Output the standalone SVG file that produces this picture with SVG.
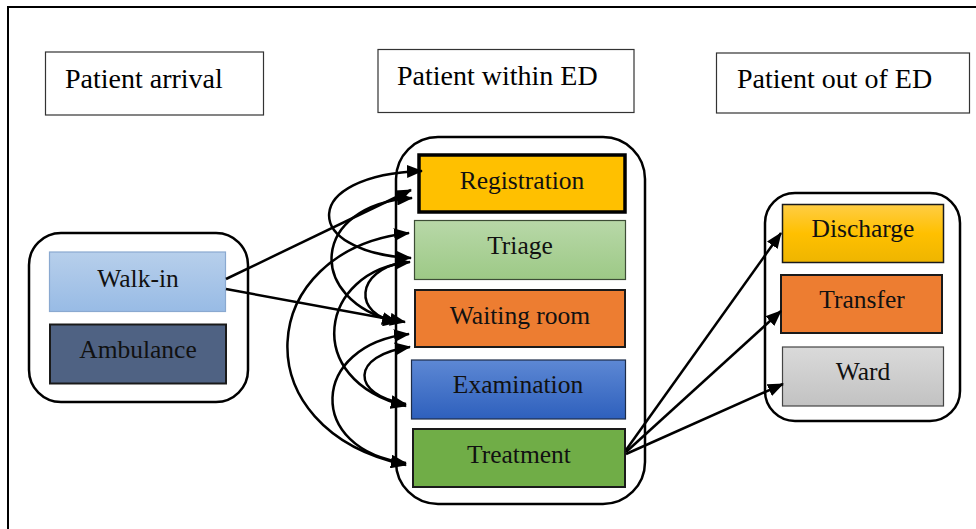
<svg xmlns="http://www.w3.org/2000/svg" width="976" height="529" viewBox="0 0 976 529">
<style>
.hdr{fill:#fff;stroke:#333;stroke-width:1.2}
.hdrt{font-family:"Liberation Serif","Times New Roman",serif;font-size:28px;fill:#000}
.cont{fill:#fff;stroke:#000;stroke-width:2.5}
.nt{font-family:"Liberation Serif","Times New Roman",serif;font-size:25.5px;fill:#111;text-anchor:middle}
.c{fill:none;stroke:#000;stroke-width:2.5}
.both{marker-start:url(#ah);marker-end:url(#ah)}
.end{marker-end:url(#ah)}
</style>
<defs>
<marker id="ah" viewBox="0 0 16 13" refX="15" refY="6.5" markerUnits="userSpaceOnUse" markerWidth="16" markerHeight="13" orient="auto-start-reverse">
<path d="M0,0 L16,6.5 L0,13 z" fill="#000"/>
</marker>
<linearGradient id="gWalk" x1="0" y1="0" x2="0" y2="1"><stop offset="0" stop-color="#b7cfeb"/><stop offset="1" stop-color="#98bbe5"/></linearGradient>
<linearGradient id="gTri" x1="0" y1="0" x2="0" y2="1"><stop offset="0" stop-color="#b8d8a8"/><stop offset="1" stop-color="#9dc986"/></linearGradient>
<linearGradient id="gExam" x1="0" y1="0" x2="0" y2="1"><stop offset="0" stop-color="#5d88d4"/><stop offset="1" stop-color="#2e60bd"/></linearGradient>
<linearGradient id="gDis" x1="0" y1="0" x2="0" y2="1"><stop offset="0" stop-color="#ffcd45"/><stop offset="0.5" stop-color="#ffc000"/><stop offset="1" stop-color="#eeb500"/></linearGradient>
<linearGradient id="gWard" x1="0" y1="0" x2="0" y2="1"><stop offset="0" stop-color="#dadada"/><stop offset="1" stop-color="#c2c2c2"/></linearGradient>
</defs>
<rect x="8" y="7" width="1000" height="600" fill="#fff" stroke="#000" stroke-width="2"/>
<g id="hdr-arrival"><rect class="hdr" x="45.5" y="52" width="218" height="63"/><text class="hdrt" x="65" y="88">Patient arrival</text></g>
<g id="hdr-within"><rect class="hdr" x="378" y="49.5" width="256" height="63"/><text class="hdrt" x="397" y="85">Patient within ED</text></g>
<g id="hdr-out"><rect class="hdr" x="716.5" y="53" width="253" height="60"/><text class="hdrt" x="737" y="88">Patient out of ED</text></g>
<g id="arrival-group"><rect class="cont" x="29" y="233" width="219" height="169" rx="32"/></g>
<g id="ed-group"><rect class="cont" x="396" y="137" width="249" height="367" rx="42"/></g>
<g id="out-group"><rect class="cont" x="765" y="193" width="195" height="228" rx="30"/></g>
<g id="walkin"><rect x="49.5" y="252" width="176" height="59.5" fill="url(#gWalk)" stroke="#8aa9d0" stroke-width="1.2"/><text class="nt" x="138" y="287">Walk-in</text></g>
<g id="ambulance"><rect x="50" y="324.5" width="176" height="59" fill="#4f6283" stroke="#1a1a1a" stroke-width="2"/><text class="nt" x="138" y="358">Ambulance</text></g>
<g id="registration"><rect x="419" y="155" width="206" height="57" fill="#ffc000" stroke="#000" stroke-width="3.5"/><text class="nt" x="522" y="189">Registration</text></g>
<g id="triage"><rect x="414.5" y="220.5" width="211" height="59" fill="url(#gTri)" stroke="#3d4d36" stroke-width="1.2"/><text class="nt" x="520" y="254">Triage</text></g>
<g id="waiting"><rect x="415" y="290" width="210" height="57" fill="#ed7d31" stroke="#1a1a1a" stroke-width="2"/><text class="nt" x="520" y="324">Waiting room</text></g>
<g id="examination"><rect x="411.5" y="360" width="214" height="59" fill="url(#gExam)" stroke="#1d2c48" stroke-width="1.2"/><text class="nt" x="518" y="393">Examination</text></g>
<g id="treatment"><rect x="413" y="429" width="212" height="58" fill="#70ad47" stroke="#1a1a1a" stroke-width="2"/><text class="nt" x="519" y="463">Treatment</text></g>
<g id="discharge"><rect x="782.5" y="204.5" width="161" height="58" fill="url(#gDis)" stroke="#1a1a1a" stroke-width="1.5"/><text class="nt" x="863" y="237">Discharge</text></g>
<g id="transfer"><rect x="781" y="275" width="161" height="58" fill="#ed7d31" stroke="#1a1a1a" stroke-width="2"/><text class="nt" x="862" y="307.5">Transfer</text></g>
<g id="ward"><rect x="782.5" y="347" width="161" height="59" fill="url(#gWard)" stroke="#444" stroke-width="1.2"/><text class="nt" x="863" y="380">Ward</text></g>
<g id="connectors">
<path class="c end" d="M226,279 L411,190"/>
<path class="c end" d="M226,289 L405,322"/>
<path class="c both" d="M411,258 C300,252 300,175 422,171"/>
<path class="c both" d="M412,198 C310,205 305,300 397,322"/>
<path class="c both" d="M409,233 C255,250 240,430 406,465"/>
<path class="c both" d="M410,262 C320,270 300,380 406,406"/>
<path class="c end" d="M405,262 C355,270 352,315 398,322"/>
<path class="c both" d="M409,334 C310,345 305,450 406,463"/>
<path class="c both" d="M410,347 C350,355 350,395 406,404"/>
<path class="c end" d="M626,450 L781,233"/>
<path class="c end" d="M626,452 L781,311"/>
<path class="c end" d="M626,454 L783,384"/>
</g>
</svg>
